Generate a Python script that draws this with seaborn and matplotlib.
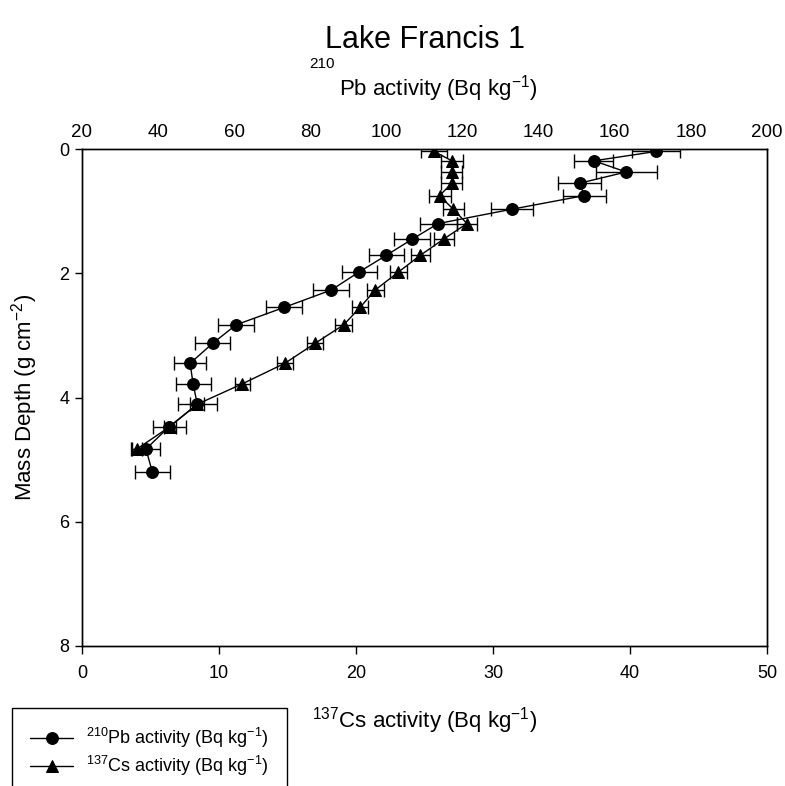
import matplotlib
matplotlib.use("Agg")
import matplotlib.pyplot as plt
import numpy as np
import pandas as pd
import seaborn as sns

# ---- data ----
depth = [0.04, 0.19, 0.37, 0.55, 0.75, 0.97, 1.20, 1.45, 1.71, 1.98,
         2.27, 2.55, 2.83, 3.13, 3.45, 3.78, 4.11, 4.47, 4.83]
pb_depth = depth + [5.20]
pb_activity = [170.8, 154.5, 163.0, 150.8, 152.0, 132.9, 113.6, 106.8, 100.0, 92.8,
               85.5, 73.1, 60.5, 54.3, 48.4, 49.2, 50.3, 42.9, 36.8, 38.5]
pb_error = [6.4, 5.1, 8.0, 5.7, 5.7, 5.5, 4.9, 4.7, 4.7, 4.6,
            4.7, 4.8, 4.7, 4.5, 4.3, 4.6, 5.2, 4.3, 3.7, 4.5]
cs_depth = depth
cs_activity = [25.7, 27.0, 27.0, 27.0, 26.1, 27.1, 28.1, 26.4, 24.7, 23.1,
               21.4, 20.3, 19.1, 17.0, 14.8, 11.7, 8.4, 6.4, 4.0]
cs_error = [0.95, 0.83, 0.77, 0.77, 0.80, 0.75, 0.75, 0.73, 0.69, 0.65,
            0.63, 0.61, 0.63, 0.61, 0.58, 0.55, 0.50, 0.45, 0.40]

cs_ticks = [0, 10, 20, 30, 40, 50]
pb_ticks = [20, 40, 60, 80, 100, 120, 140, 160, 180, 200]
depth_ticks = [0, 2, 4, 6, 8]

pb_df = pd.DataFrame({"activity": pb_activity, "depth": pb_depth})
cs_df = pd.DataFrame({"activity": cs_activity, "depth": cs_depth})

# ---- style ----
sns.set_style("ticks")
plt.rcParams["font.family"] = ["Liberation Sans", "DejaVu Sans"]
plt.rcParams["mathtext.fontset"] = "custom"
plt.rcParams["mathtext.rm"] = "Liberation Sans"
plt.rcParams["mathtext.it"] = "Liberation Sans:italic"
plt.rcParams["mathtext.bf"] = "Liberation Sans:bold"
plt.rcParams["mathtext.default"] = "regular"
for k in ("text.color", "axes.labelcolor", "xtick.color", "ytick.color",
          "axes.edgecolor"):
    plt.rcParams[k] = "black"

W, H = 785, 786
fig = plt.figure(figsize=(W / 100, H / 100), dpi=100)
ax = fig.add_axes([82 / W, 1 - 646 / H, 685 / W, 497 / H])
ax2 = ax.twiny()

lw = 1.0
# Cs on bottom axis
sns.lineplot(data=cs_df, x="activity", y="depth", sort=False, estimator=None,
             color="black", marker="^", markersize=9, markeredgecolor="black",
             linewidth=lw, ax=ax, legend=False)
cs_line = ax.lines[-1]
ax.errorbar(cs_activity, cs_depth, xerr=cs_error, fmt="none", ecolor="black",
            elinewidth=lw, capsize=5, capthick=lw)

# Pb on top axis
sns.lineplot(data=pb_df, x="activity", y="depth", sort=False, estimator=None,
             color="black", marker="o", markersize=8.5, markeredgecolor="black",
             linewidth=lw, ax=ax2, legend=False)
pb_line = ax2.lines[-1]
ax2.errorbar(pb_activity, pb_depth, xerr=pb_error, fmt="none", ecolor="black",
             elinewidth=lw, capsize=5, capthick=lw)

# axes limits & ticks
ax.set_xlim(0, 50)
ax.set_xticks(cs_ticks)
ax.set_ylim(8, 0)
ax.set_yticks(depth_ticks)
ax2.set_xlim(20, 200)
ax2.set_xticks(pb_ticks)
ax2.set_ylim(8, 0)

for a in (ax, ax2):
    for s in a.spines.values():
        s.set_visible(True)
        s.set_linewidth(1.0)
        s.set_color("black")

ax.tick_params(axis="x", direction="out", length=6, width=1, labelsize=13, pad=8,
               top=False, bottom=True, color="black", labelcolor="black")
ax.tick_params(axis="y", direction="out", length=5, width=1, labelsize=13, pad=4,
               left=True, right=False, color="black", labelcolor="black")
ax2.tick_params(axis="x", length=0, labelsize=13.5, pad=6, top=True, bottom=False,
                labelcolor="black")

ax.set_xlabel("$^{137}$Cs activity (Bq kg$^{-1}$)", fontsize=16, labelpad=16)
ax.set_ylabel("Mass Depth (g cm$^{-2}$)", fontsize=16, labelpad=14)
ax2.set_xlabel("")
ax2.set_ylabel("")
ax.grid(False)
ax2.grid(False)

# titles
fig.text(425 / W, 1 - 40 / H, "Lake Francis 1", fontsize=22, ha="center", va="center")
fig.text(438 / W, 1 - 89 / H, "Pb activity (Bq kg$^{-1}$)", fontsize=16,
         ha="center", va="center")
fig.text(322 / W, 1 - 64 / H, "210", fontsize=11, ha="center", va="center")

# legend
leg = fig.legend(handles=[pb_line, cs_line],
                 labels=["$^{210}$Pb activity (Bq kg$^{-1}$)",
                         "$^{137}$Cs activity (Bq kg$^{-1}$)"],
                 loc="upper left", bbox_to_anchor=(12 / W, 1 - 708 / H),
                 bbox_transform=fig.transFigure, borderaxespad=0,
                 fontsize=13, frameon=True, fancybox=False, shadow=False,
                 edgecolor="black", framealpha=1, borderpad=1.0,
                 handlelength=2.4, handletextpad=0.7, labelspacing=0.2)
leg.get_frame().set_linewidth(1.0)

fig.savefig("out.png", dpi=100)
